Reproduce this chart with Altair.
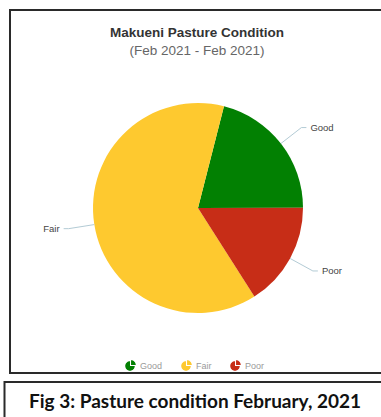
import math
import altair as alt
import pandas as pd

# Pasture condition shares, Makueni, February 2021 (percent)
categories = ["Good", "Fair", "Poor"]
shares = [21, 63, 16]
colors = ["#028002", "#fec92f", "#c72d17"]
# clockwise drawing order of the slices, starting from the first edge
draw_order = ["Good", "Poor", "Fair"]

df = pd.DataFrame({
    "cat": categories,
    "value": shares,
    "rank": [draw_order.index(c) for c in categories],
})

W, H = 381, 417
CX, CY, R = 198, 208, 105
START = 0.25            # rotation of the first slice edge (radians)
ELBOW = 131             # distance of the connector elbow from the centre
FONT = "Liberation Sans"

base = alt.Chart(df).transform_joinaggregate(
    total="sum(value)"
).transform_window(
    cum="sum(value)", sort=[alt.SortField("rank")], frame=[None, 0]
).transform_calculate(
    a1=f"{START} + 2*PI*datum.cum/datum.total",
    a0=f"{START} + 2*PI*(datum.cum - datum.value)/datum.total",
).transform_calculate(
    mid="(datum.a0 + datum.a1)/2",
).transform_calculate(
    side="sin(datum.mid) >= 0 ? 1 : -1",
    ex=f"{CX} + {R}*sin(datum.mid)",
    ey=f"{CY} - {R}*cos(datum.mid)",
    bx=f"{CX} + {ELBOW}*sin(datum.mid)",
    by=f"{CY} - {ELBOW}*cos(datum.mid)",
).transform_calculate(
    hx="datum.bx + 5*datum.side",
    tx="datum.bx + 9*datum.side",
)

pie_icon = ("M0,0 L0,-1 A1,1 0 1,0 1,0 Z "
            "M0.22,-0.22 L1.22,-0.22 A1,1 0 0,0 0.22,-1.22 Z")

pie = base.mark_arc(radius=R).encode(
    theta=alt.Theta("a0:Q", scale=None),
    theta2="a1:Q",
    x=alt.value(CX),
    y=alt.value(CY),
    color=alt.Color(
        "cat:N",
        scale=alt.Scale(domain=categories, range=colors),
        legend=alt.Legend(
            orient="none", legendX=125, legendY=361, direction="horizontal",
            title=None, symbolType=pie_icon, symbolSize=90,
            symbolStrokeWidth=0, labelFontSize=9, labelColor="#9a9a9a",
            labelFont=FONT, columnPadding=18, labelOffset=5, padding=0,
        ),
    ),
)

conn_color = "#b3cbd5"
leg1 = base.mark_rule(color=conn_color, strokeWidth=1).encode(
    x=alt.X("ex:Q", scale=None), y=alt.Y("ey:Q", scale=None),
    x2="bx:Q", y2="by:Q",
)
leg2 = base.mark_rule(color=conn_color, strokeWidth=1).encode(
    x=alt.X("bx:Q", scale=None), y=alt.Y("by:Q", scale=None),
    x2="hx:Q", y2="by:Q",
)

lbl_kw = dict(fontSize=9.5, font=FONT, color="#444", baseline="middle")
lbl_right = base.transform_filter("datum.side > 0").mark_text(
    align="left", **lbl_kw
).encode(x=alt.X("tx:Q", scale=None), y=alt.Y("by:Q", scale=None), text="cat:N")
lbl_left = base.transform_filter("datum.side < 0").mark_text(
    align="right", **lbl_kw
).encode(x=alt.X("tx:Q", scale=None), y=alt.Y("by:Q", scale=None), text="cat:N")

one = alt.Chart(pd.DataFrame({"k": [0]}))

frame = one.mark_rect(fillOpacity=0, stroke="#2a2a2a", strokeWidth=2).encode(
    x=alt.value(10), x2=alt.value(W + 10), y=alt.value(10), y2=alt.value(373)
)
cap_frame = one.mark_rect(fillOpacity=0, stroke="#2a2a2a", strokeWidth=2).encode(
    x=alt.value(4.5), x2=alt.value(W + 10), y=alt.value(382), y2=alt.value(H + 10)
)

title = one.mark_text(
    text="Makueni Pasture Condition", font=FONT, fontSize=13.5,
    fontWeight="bold", color="#333", baseline="middle"
).encode(x=alt.value(197), y=alt.value(33))
subtitle = one.mark_text(
    text="(Feb 2021 - Feb 2021)", font=FONT, fontSize=13.5,
    color="#666", baseline="middle"
).encode(x=alt.value(197), y=alt.value(51))
caption = one.mark_text(
    text="Fig 3: Pasture condition February, 2021", font="Lato", fontSize=19,
    fontWeight="bold", color="#111", baseline="middle"
).encode(x=alt.value(195), y=alt.value(402))

chart = alt.layer(
    frame, cap_frame, title, subtitle, pie, leg1, leg2, lbl_right, lbl_left, caption
).properties(
    width=W, height=H, padding=0, autosize="none", background="white"
).configure_view(stroke=None)

chart.save("out.html", embed_options={"renderer": "svg", "actions": False})
